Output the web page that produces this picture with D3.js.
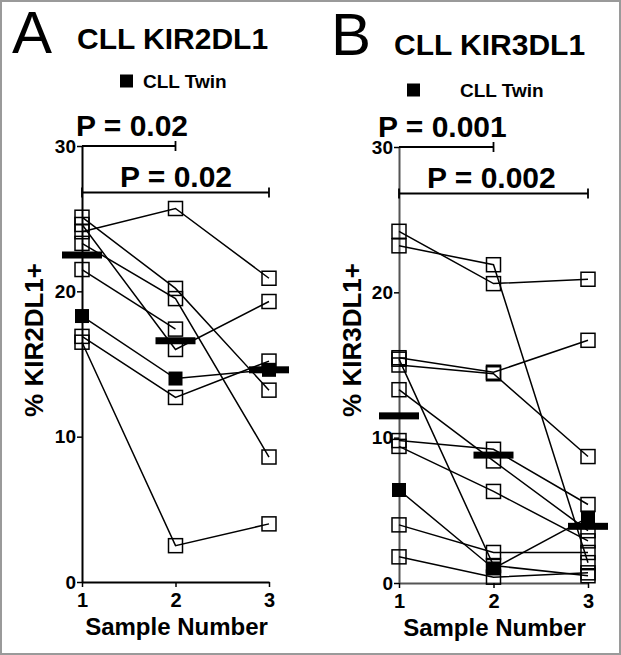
<!DOCTYPE html>
<html><head><meta charset="utf-8">
<script src="https://cdn.jsdelivr.net/npm/d3@7"></script>
<style>body{margin:0;background:#fff} text{font-family:"Liberation Sans",Arial,sans-serif}</style>
</head><body><svg id="c" width="621" height="655"></svg>
<script>
// ---- data ----
const samples = [1, 2, 3];
const yTicks = [0, 10, 20, 30];

// Panel A: CLL KIR2DL1 — one row per subject, values at samples 1,2,3
const kir2dl1Open = [
  [24.1, 25.7, 20.9],
  [25.1, 20.2, 13.2],
  [24.6, 16.0, 19.3],
  [23.3, 19.5, 8.6],
  [21.5, 17.4, null],
  [16.9, 12.7, 15.2],
  [16.5, 2.5, 4.0]
];
const kir2dl1Twin = [18.3, 14.0, 14.6];
const kir2dl1Median = [22.5, 16.6, 14.6];
const kir2dl1P = ["P = 0.02", "P = 0.02"];

// Panel B: CLL KIR3DL1
const kir3dl1Open = [
  [24.2, 20.6, 20.9],
  [23.2, 21.9, 1.4],
  [15.5, 14.5, 16.7],
  [15.0, 14.4, 8.7],
  [15.4, 1.2, 0.5],
  [13.3, 8.4, 3.6],
  [9.8, 9.2, 5.4],
  [9.4, 6.3, 2.9],
  [4.0, 2.1, 2.1],
  [1.8, 0.4, 0.7]
];
const kir3dl1Twin = [6.4, 1.0, 4.5];
const kir3dl1Median = [11.5, 8.8, 3.9];
const kir3dl1P = ["P = 0.001", "P = 0.002"];

// ---- drawing ----
const svg = d3.select("#c");
svg.append("rect").attr("x", 1).attr("y", 1).attr("width", 619).attr("height", 653)
  .attr("fill", "#fff").attr("stroke", "#9a9a9a").attr("stroke-width", 2);

function drawPanel(cfg) {
  const g = svg.append("g");
  const x = d3.scaleLinear().domain([1, 3]).range(cfg.xr);
  const y = d3.scaleLinear().domain([0, 30]).range(cfg.yr);

  // axes
  const ya = g.append("g").attr("transform", `translate(${cfg.xr[0]},0)`)
    .call(d3.axisLeft(y).tickValues(yTicks).tickSize(5).tickSizeOuter(0).tickPadding(1));
  const xa = g.append("g").attr("transform", `translate(0,${cfg.yr[0]})`)
    .call(d3.axisBottom(x).tickValues(samples).tickFormat(d3.format("d")).tickSize(5).tickSizeOuter(0).tickPadding(6));
  [ya, xa].forEach(a => {
    a.select(".domain").attr("stroke", cfg.axisColor).attr("stroke-width", 2);
    a.selectAll(".tick line").attr("stroke", "#000").attr("stroke-width", 1.5);
    a.selectAll("text").attr("fill", "#000").style("font-weight", "bold");
  });
  ya.selectAll("text").style("font-size", "19px");
  xa.selectAll("text").style("font-size", "20px");

  // subject lines
  const lg = g.append("g").attr("fill", "none").attr("stroke", "#000").attr("stroke-width", 1.5);
  const line = d3.line().defined(d => d.v != null).x(d => x(d.s)).y(d => y(d.v));
  cfg.open.forEach(row => {
    lg.append("path").attr("d", line(row.map((v, i) => ({s: samples[i], v}))));
  });
  lg.append("path").attr("d", line(cfg.twin.map((v, i) => ({s: samples[i], v}))));

  // open squares
  const pts = [];
  cfg.open.forEach(row => row.forEach((v, i) => { if (v != null) pts.push({s: samples[i], v}); }));
  g.append("g").selectAll("rect").data(pts).join("rect")
    .attr("x", d => x(d.s) - 7).attr("y", d => y(d.v) - 7)
    .attr("width", 14).attr("height", 14)
    .attr("fill", "none").attr("stroke", "#000").attr("stroke-width", 1.5);
  // twin filled squares
  g.append("g").selectAll("rect").data(cfg.twin.map((v, i) => ({s: samples[i], v}))).join("rect")
    .attr("x", d => x(d.s) - 7).attr("y", d => y(d.v) - 7)
    .attr("width", 14).attr("height", 14).attr("fill", "#000");
  // median bars
  g.append("g").selectAll("rect").data(cfg.median.map((v, i) => ({s: samples[i], v}))).join("rect")
    .attr("x", d => x(d.s) - 20).attr("y", d => y(d.v) - 3.5)
    .attr("width", 40).attr("height", 7).attr("fill", "#000");

  // significance brackets
  const br = g.append("g").attr("stroke", "#000").attr("stroke-width", 1.8);
  const b1 = y(30), b2 = y(26.8);
  br.append("line").attr("x1", x(1)).attr("x2", x(2)).attr("y1", b1).attr("y2", b1);
  br.append("line").attr("x1", x(2)).attr("x2", x(2)).attr("y1", b1 - 5).attr("y2", b1 + 5);
  br.append("line").attr("x1", x(1)).attr("x2", x(3)).attr("y1", b2).attr("y2", b2);
  br.append("line").attr("x1", x(1)).attr("x2", x(1)).attr("y1", b2 - 5).attr("y2", b2 + 5);
  br.append("line").attr("x1", x(3)).attr("x2", x(3)).attr("y1", b2 - 5).attr("y2", b2 + 5);
  g.append("text").attr("x", cfg.p1x).attr("y", b1 - 10).text(cfg.p[0])
    .style("font-size", "30px").style("font-weight", "bold");
  g.append("text").attr("x", cfg.p2x).attr("y", b2 - 6).text(cfg.p[1])
    .style("font-size", "30px").style("font-weight", "bold");

  // titles
  g.append("text").attr("x", cfg.letterX).attr("y", cfg.letterY).text(cfg.letter)
    .style("font-size", "60px");
  g.append("text").attr("x", cfg.titleX).attr("y", cfg.titleY).text(cfg.title)
    .style("font-size", "30px").style("font-weight", "bold");
  // legend
  g.append("rect").attr("x", cfg.legX).attr("y", cfg.legY - 6.5).attr("width", 13).attr("height", 13).attr("fill", "#000");
  g.append("text").attr("x", cfg.legTextX).attr("y", cfg.legY + 7).text("CLL Twin")
    .style("font-size", "19px").style("font-weight", "bold");
  // axis titles
  g.append("text").attr("transform", `translate(${cfg.ylabX},340) rotate(-90)`)
    .attr("text-anchor", "middle").text(cfg.ylabel)
    .style("font-size", "26px").style("font-weight", "bold");
  g.append("text").attr("x", (cfg.xr[0] + cfg.xr[1]) / 2 + 1).attr("y", cfg.yr[0] + 53)
    .attr("text-anchor", "middle").text("Sample Number")
    .style("font-size", "24px").style("font-weight", "bold");
}

drawPanel({
  xr: [82, 269], yr: [582, 146], axisColor: "#000",
  open: kir2dl1Open, twin: kir2dl1Twin, median: kir2dl1Median, p: kir2dl1P,
  p1x: 76, p2x: 120,
  letter: "A", letterX: 12, letterY: 53, title: "CLL KIR2DL1", titleX: 77, titleY: 49,
  legX: 120, legY: 81, legTextX: 143,
  ylabel: "% KIR2DL1+", ylabX: 43
});
drawPanel({
  xr: [399, 588], yr: [583, 147], axisColor: "#555",
  open: kir3dl1Open, twin: kir3dl1Twin, median: kir3dl1Median, p: kir3dl1P,
  p1x: 378, p2x: 427,
  letter: "B", letterX: 331, letterY: 55, title: "CLL KIR3DL1", titleX: 394, titleY: 55,
  legX: 407, legY: 90, legTextX: 460,
  ylabel: "% KIR3DL1+", ylabX: 361
});
</script></body></html>
